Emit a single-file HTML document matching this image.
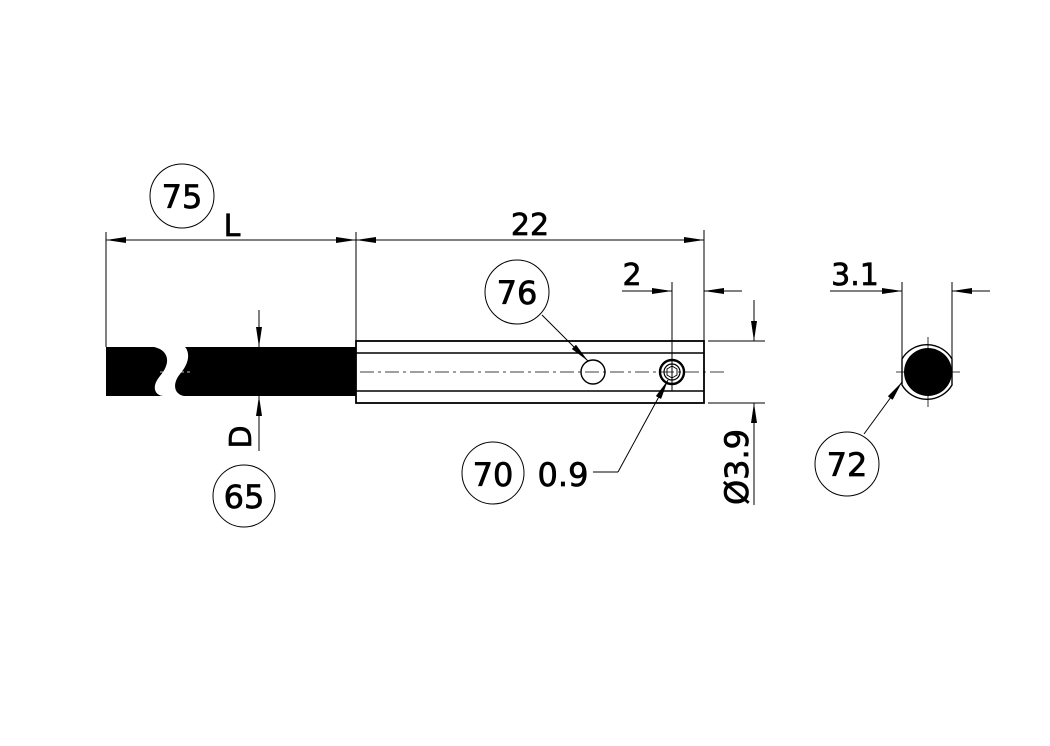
<!DOCTYPE html>
<html><head><meta charset="utf-8"><style>
html,body{margin:0;padding:0;background:#fff}
svg{display:block}
text{font-family:"DejaVu Sans","Liberation Sans",sans-serif;fill:#000;stroke:#000;stroke-width:0.7}
</style></head><body>
<svg width="1050" height="746" viewBox="0 0 1050 746" xmlns="http://www.w3.org/2000/svg">
<defs>
<marker id="a" viewBox="0 0 20 6" refX="20" refY="3" markerWidth="20" markerHeight="6" markerUnits="userSpaceOnUse" orient="auto"><path d="M0,0 L20,3 L0,6 Z" fill="#000"/></marker>
</defs>
<g stroke="#000" fill="none" stroke-width="1">
<line x1="106" y1="232" x2="106" y2="347"/>
<line x1="356" y1="232" x2="356" y2="341"/>
<line x1="704" y1="230" x2="704" y2="341"/>
<line x1="230" y1="240" x2="106" y2="240" marker-end="url(#a)"/>
<line x1="230" y1="240" x2="356" y2="240" marker-end="url(#a)"/>
<line x1="530" y1="240" x2="356" y2="240" marker-end="url(#a)"/>
<line x1="530" y1="240" x2="704" y2="240" marker-end="url(#a)"/>
<circle cx="182" cy="196" r="32"/>
<line x1="259" y1="310" x2="259" y2="347" marker-end="url(#a)"/>
<line x1="259" y1="451" x2="259" y2="396" marker-end="url(#a)"/>
<circle cx="244" cy="496" r="31"/>
<rect x="356" y="341" width="348" height="62" stroke-width="1.8"/>
<line x1="356" y1="353" x2="704" y2="353" stroke-width="1.5"/>
<line x1="356" y1="391" x2="704" y2="391" stroke-width="1.5"/>
<line x1="360" y1="372" x2="725" y2="372" stroke-width="0.8" stroke-dasharray="14,4,3,4"/>
<circle cx="593" cy="372" r="12" stroke-width="1.4"/>
<circle cx="672" cy="372" r="12" stroke-width="2.4"/>
<circle cx="672" cy="372" r="8" stroke-width="1.2"/>
<path d="M672,366 L677,369 L677,375 L672,378 L667,375 L667,369 Z" stroke-width="0.9"/>
<circle cx="517" cy="292" r="32"/>
<line x1="542" y1="315" x2="588" y2="361" marker-end="url(#a)"/>
<circle cx="493" cy="473" r="31"/>
<line x1="593" y1="472" x2="618" y2="472"/>
<line x1="618" y1="472" x2="668" y2="380" marker-end="url(#a)"/>
<line x1="672" y1="282" x2="672" y2="391"/>
<line x1="622" y1="291" x2="672" y2="291" marker-end="url(#a)"/>
<line x1="742" y1="291" x2="704" y2="291" marker-end="url(#a)"/>
<line x1="708" y1="341" x2="765" y2="341"/>
<line x1="708" y1="403" x2="765" y2="403"/>
<line x1="754" y1="300" x2="754" y2="341" marker-end="url(#a)"/>
<line x1="754" y1="505" x2="754" y2="403" marker-end="url(#a)"/>
<line x1="902" y1="282" x2="902" y2="372"/>
<line x1="952" y1="282" x2="952" y2="372"/>
<line x1="830" y1="291" x2="902" y2="291" marker-end="url(#a)"/>
<line x1="990" y1="291" x2="952" y2="291" marker-end="url(#a)"/>
<path d="M902,359 A29,29 0 0 1 952,359 L952,385 A29,29 0 0 1 902,385 Z" stroke-width="1.4"/>
<line x1="928" y1="337" x2="928" y2="407" stroke-width="0.8"/>
<line x1="896" y1="372" x2="960" y2="372" stroke-width="0.8"/>
<circle cx="847" cy="464" r="32"/>
<line x1="864" y1="434" x2="902" y2="382" marker-end="url(#a)"/>
</g>
<circle cx="928" cy="372" r="24" fill="#000"/>
<path d="M106,347 L154,347 C168,350 172,362 160,376 C150,388 156,396 164,396 L106,396 Z" fill="#000"/>
<path d="M185,347 L356,347 L356,396 L184,396 C174,394 172,384 180,374 C192,360 188,350 185,347 Z" fill="#000"/>
<line x1="160" y1="372" x2="190" y2="372" stroke="#fff" stroke-width="0.8" stroke-dasharray="6,3"/>
<text x="182" y="208" font-size="32" text-anchor="middle">75</text>
<text x="232" y="236" font-size="30" text-anchor="middle">L</text>
<text x="530" y="235" font-size="30" text-anchor="middle">22</text>
<text x="517" y="304" font-size="32" text-anchor="middle">76</text>
<text x="493" y="486" font-size="32" text-anchor="middle">70</text>
<text x="563" y="486" font-size="32" text-anchor="middle">0.9</text>
<text x="632" y="285" font-size="30" text-anchor="middle">2</text>
<text x="855" y="285" font-size="30" text-anchor="middle">3.1</text>
<text x="847" y="476" font-size="32" text-anchor="middle">72</text>
<text x="244" y="508" font-size="32" text-anchor="middle">65</text>
<text transform="translate(251,437) rotate(-90)" font-size="30" text-anchor="middle">D</text>
<text transform="translate(748,467) rotate(-90)" font-size="32" text-anchor="middle">Ø3.9</text>
</svg>
</body></html>
